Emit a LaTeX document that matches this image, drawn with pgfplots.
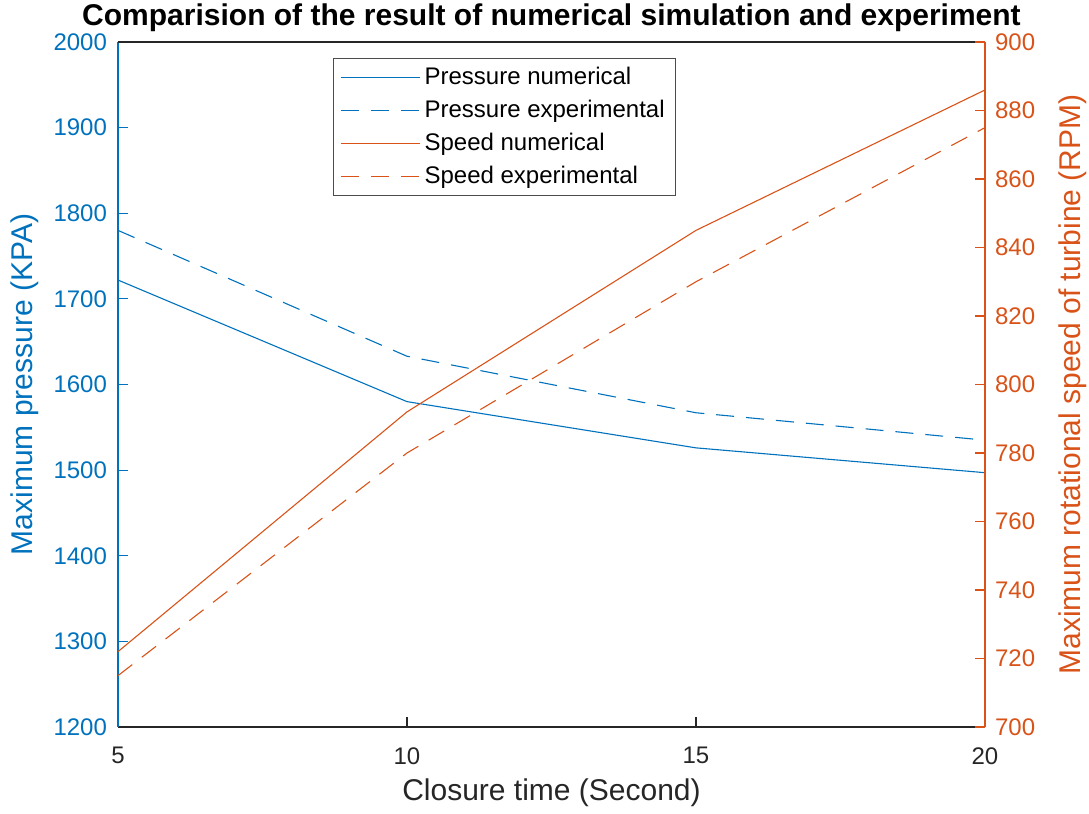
\documentclass[border=0pt]{standalone}
\usepackage{pgfplots}
\pgfplotsset{compat=1.18}
\usepackage{fontspec}
\setmainfont{Liberation Sans}

\definecolor{mblue}{rgb}{0,0.447,0.741}
\definecolor{morange}{rgb}{0.85,0.325,0.098}
\definecolor{maxis}{rgb}{0.15,0.15,0.15}

\begin{document}
\begin{tikzpicture}
\pgfplotsset{
  common/.style={
    width=433.5pt, height=342.5pt, scale only axis,
    xmin=5, xmax=20,
    tick align=inside,
    major tick length=5pt,
    /pgf/number format/assume math mode=true,
    tick label style={font=\fontsize{12}{14}\selectfont},
    label style={font=\fontsize{15}{17}\selectfont},
    every axis plot/.append style={line width=0.55pt},
  },
  mdash/.style={dash pattern=on 9pt off 6pt},
  sample/.style={legend image code/.code={%
    \draw[line width=0.55pt, #1] (0pt,0pt) -- (39.5pt,0pt);}},
}

% Left axis: maximum pressure
\begin{axis}[
  common,
  ymin=1200, ymax=2000,
  ytick={1200,1300,...,2000},
  xtick={5,10,15,20},
  axis x line*=bottom,
  axis y line*=left,
  x axis line style={draw=maxis, line width=0.7pt, -},
  y axis line style={draw=mblue, line width=0.7pt, -},
  xtick style={draw=maxis, line width=0.6pt},
  ytick style={draw=mblue, line width=0.6pt},
  yticklabel style={text=mblue, xshift=-2pt},
  xticklabel style={text=maxis, yshift=-6.7pt},
  /pgf/number format/1000 sep={},
  xlabel={Closure time (Second)},
  ylabel={Maximum pressure (KPA)},
  xlabel style={text=maxis, at={(axis description cs:0.5,-0.096)}, anchor=center},
  ylabel style={text=mblue, at={(axis description cs:-0.1073,0.5)}, anchor=center},
  extra description/.code={
    \draw[maxis, line width=0.7pt] (rel axis cs:0,1) -- (rel axis cs:1,1);
    \node[font=\fontsize{15}{17}\selectfont\bfseries, anchor=center]
      at (axis description cs:0.5,1.035)
      {Comparision of the result of numerical simulation and experiment};
  },
]
\addplot[draw=mblue] coordinates {(5,1722) (10,1580) (15,1526) (20,1497)};
\addplot[draw=mblue, mdash] coordinates {(5,1780) (10,1633) (15,1567) (20,1535)};
\end{axis}

% Right axis: maximum rotational speed
\begin{axis}[
  common,
  ymin=700, ymax=900,
  ytick={700,720,...,900},
  axis x line=none,
  axis y line*=right,
  y axis line style={draw=morange, line width=0.7pt, -},
  ytick style={draw=morange, line width=0.6pt},
  yticklabel style={text=morange, xshift=1.5pt},
  ylabel={Maximum rotational speed of turbine (RPM)},
  ylabel style={text=morange, at={(axis description cs:1.1015,0.5)}, anchor=center},
  legend style={at={(0.248,0.977)}, anchor=north west,
    draw=black!70, line width=0.5pt, fill=white,
    font=\fontsize{12}{14}\selectfont,
    row sep=2.25pt, inner xsep=3.5pt, inner ysep=2.5pt},
  legend cell align=left,
]
\addplot[draw=morange, forget plot] coordinates {(5,722) (10,792) (15,845) (20,886)};
\addplot[draw=morange, mdash, forget plot] coordinates {(5,715) (10,780) (15,830) (20,875)};
\addlegendimage{sample={mblue}}
\addlegendentry{Pressure numerical}
\addlegendimage{sample={mblue, dash pattern=on 9pt off 6pt}}
\addlegendentry{Pressure experimental}
\addlegendimage{sample={morange}}
\addlegendentry{Speed numerical}
\addlegendimage{sample={morange, dash pattern=on 9pt off 6pt}}
\addlegendentry{Speed experimental}
\end{axis}

% page size: the whole figure, axis box placed inside it
\pgfresetboundingbox
\path (-59pt,-43.5pt) rectangle (485.5pt,363.5pt);
\end{tikzpicture}
\end{document}
